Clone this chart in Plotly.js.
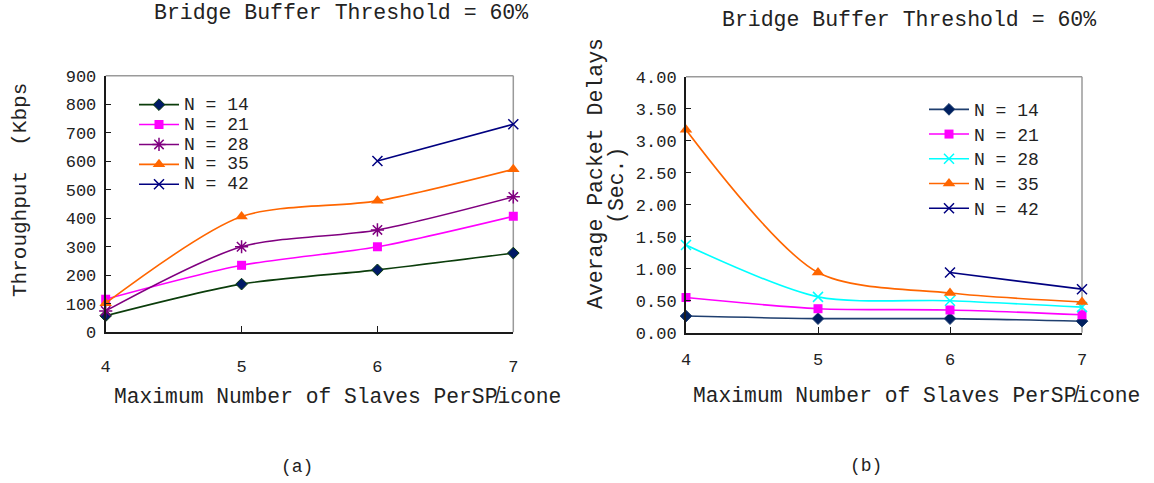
<!DOCTYPE html>
<html>
<head>
<meta charset="utf-8">
<script src="https://cdn.plot.ly/plotly-3.0.1.min.js"></script>
<style>
html, body { margin: 0; padding: 0; background: #fff; }
#chart { width: 1154px; height: 483px; }
</style>
</head>
<body>
<div id="chart"></div>
<script>
// ---------- DATA ----------
const slaves = [4, 5, 6, 7];
const seriesNames = ['N = 14', 'N = 21', 'N = 28', 'N = 35', 'N = 42'];

// (a) Throughput (Kbps)
const thrN14 = [58, 169, 219, 278];
const thrN21 = [116, 235, 300, 407];
const thrN28 = [75, 300, 359, 475];
const thrN35 = [102, 406, 461, 572];
const thrN42 = [null, null, 601, 730];

// (b) Average packet delays (sec.)
const delN14 = [0.26, 0.22, 0.22, 0.18];
const delN21 = [0.55, 0.375, 0.355, 0.28];
const delN28 = [1.37, 0.56, 0.50, 0.40];
const delN35 = [3.17, 0.94, 0.62, 0.48];
const delN42 = [null, null, 0.94, 0.68];

const yTicksA = [0, 100, 200, 300, 400, 500, 600, 700, 800, 900];
const yTicksB = [0, 0.5, 1, 1.5, 2, 2.5, 3, 3.5, 4];

const titleText = 'Bridge Buffer Threshold = 60%';
const xTitleText = 'Maximum Number of Slaves PerSP\u0338icone';
const yTitleA = 'Throughput\u00a0\u00a0(Kbps';
const yTitleB1 = 'Average Packet Delays';
const yTitleB2 = '(Sec.)';

// ---------- STYLE ----------
const W = 1154, H = 483;
const FONT = 'Liberation Mono, Courier New, monospace';
const TXT = '#222';
const px = v => v / W;
const py = v => 1 - v / H;

function lname(n) { return '<span style="font-size:18px">' + n + '</span>'; }

const styleA = [
  { line: '#0b3d0b', marker: { symbol: 'diamond', size: 9, color: '#001a66', line: { color: '#0b3d0b', width: 1 } } },
  { line: '#FF00FF', marker: { symbol: 'square', size: 9, color: '#FF00FF' } },
  { line: '#800080', marker: { symbol: 'asterisk-open', size: 11, color: '#800080', line: { color: '#800080', width: 1.5 } } },
  { line: '#FF6600', marker: { symbol: 'triangle-up', size: 11, color: '#FF6600' } },
  { line: '#000080', marker: { symbol: 'x-thin-open', size: 10, color: '#000080', line: { color: '#000080', width: 1.5 } } }
];
const styleB = [
  { line: '#1f3f6f', marker: { symbol: 'diamond', size: 9, color: '#002060', line: { color: '#1f3f6f', width: 1 } } },
  { line: '#FF00FF', marker: { symbol: 'square', size: 9, color: '#FF00FF' } },
  { line: '#00FFFF', marker: { symbol: 'x-thin-open', size: 10, color: '#00FFFF', line: { color: '#00FFFF', width: 1.5 } } },
  { line: '#FF6600', marker: { symbol: 'triangle-up', size: 11, color: '#FF6600' } },
  { line: '#000080', marker: { symbol: 'x-thin-open', size: 10, color: '#000080', line: { color: '#000080', width: 1.5 } } }
];

const thrSeries = [thrN14, thrN21, thrN28, thrN35, thrN42];
const delSeries = [delN14, delN21, delN28, delN35, delN42];

const traces = [];
thrSeries.forEach((ys, i) => {
  traces.push({
    x: slaves, y: ys, name: lname(seriesNames[i]), type: 'scatter', mode: 'lines+markers',
    xaxis: 'x', yaxis: 'y', legend: 'legend', cliponaxis: false,
    line: { color: styleA[i].line, width: 1.6, shape: 'spline', smoothing: 0.8 },
    marker: styleA[i].marker, hoverinfo: 'x+y'
  });
});
delSeries.forEach((ys, i) => {
  traces.push({
    x: slaves, y: ys, name: lname(seriesNames[i]), type: 'scatter', mode: 'lines+markers',
    xaxis: 'x2', yaxis: 'y2', legend: 'legend2', cliponaxis: false,
    line: { color: styleB[i].line, width: 1.6, shape: 'spline', smoothing: 0.8 },
    marker: styleB[i].marker, hoverinfo: 'x+y'
  });
});

const axisCommon = {
  showline: true, linecolor: '#1a1a1a', linewidth: 2,
  showgrid: false, zeroline: false, ticks: 'inside', tickcolor: '#1a1a1a', tickwidth: 1,
  tickfont: { family: FONT, size: 17, color: TXT }, fixedrange: true
};

const frame = (xr, yr) => [
  { type: 'line', xref: xr + ' domain', yref: yr + ' domain', x0: 0, x1: 1, y0: 1, y1: 1, line: { color: '#9a9a9a', width: 1.5 }, layer: 'below' },
  { type: 'line', xref: xr + ' domain', yref: yr + ' domain', x0: 1, x1: 1, y0: 0, y1: 1, line: { color: '#9a9a9a', width: 1.5 }, layer: 'below' }
];

function ann(text, x, y, size, extra) {
  return Object.assign({ text: text, xref: 'paper', yref: 'paper', x: px(x), y: py(y), xanchor: 'center', yanchor: 'middle',
    showarrow: false, font: { family: FONT, size: size, color: TXT } }, extra || {});
}

const layout = {
  width: W, height: H,
  margin: { l: 0, r: 0, t: 0, b: 0 },
  paper_bgcolor: '#ffffff', plot_bgcolor: '#ffffff',
  showlegend: true,
  font: { family: FONT, color: TXT },
  xaxis: Object.assign({}, axisCommon, { domain: [px(105.7), px(513.3)], range: [4, 7], tickvals: slaves, ticklen: 6, ticklabelstandoff: 17, anchor: 'y' }),
  yaxis: Object.assign({}, axisCommon, { domain: [py(332.3), py(75.7)], range: [0, 900], tickvals: yTicksA, ticklen: 5, ticklabelstandoff: 4, anchor: 'x' }),
  xaxis2: Object.assign({}, axisCommon, { domain: [px(686), px(1082)], range: [4, 7], tickvals: slaves, ticklen: 6, ticklabelstandoff: 10, anchor: 'y2' }),
  yaxis2: Object.assign({}, axisCommon, { domain: [py(332.7), py(76.7)], range: [0, 4], tickvals: yTicksB, tickformat: '.2f', ticklen: 5, ticklabelstandoff: 4, anchor: 'x2' }),
  legend: { x: px(134), y: py(89.7), xanchor: 'left', yanchor: 'top', bgcolor: 'rgba(0,0,0,0)', borderwidth: 0,
    font: { family: FONT, size: 13, color: TXT }, itemwidth: 40, itemclick: false, itemdoubleclick: false },
  legend2: { x: px(924), y: py(92), xanchor: 'left', yanchor: 'top', bgcolor: 'rgba(0,0,0,0)', borderwidth: 0,
    font: { family: FONT, size: 16.7, color: TXT }, itemwidth: 40, itemclick: false, itemdoubleclick: false },
  shapes: frame('x', 'y').concat(frame('x2', 'y2')),
  annotations: [
    ann(titleText, 341, 13, 21.5),
    ann(titleText, 909, 20, 21.5),
    ann(yTitleA, 20, 190, 21, { textangle: -90 }),
    ann(yTitleB1, 596, 174, 21.5, { textangle: -90 }),
    ann(yTitleB2, 617, 186, 21.5, { textangle: -90 }),
    ann(xTitleText, 337, 397, 21.3),
    ann(xTitleText, 916.5, 396, 21.3),
    ann('(a)', 297, 467, 18),
    ann('(b)', 866, 466, 18)
  ]
};

Plotly.newPlot('chart', traces, layout, { displayModeBar: false, staticPlot: true });
</script>
</body>
</html>
